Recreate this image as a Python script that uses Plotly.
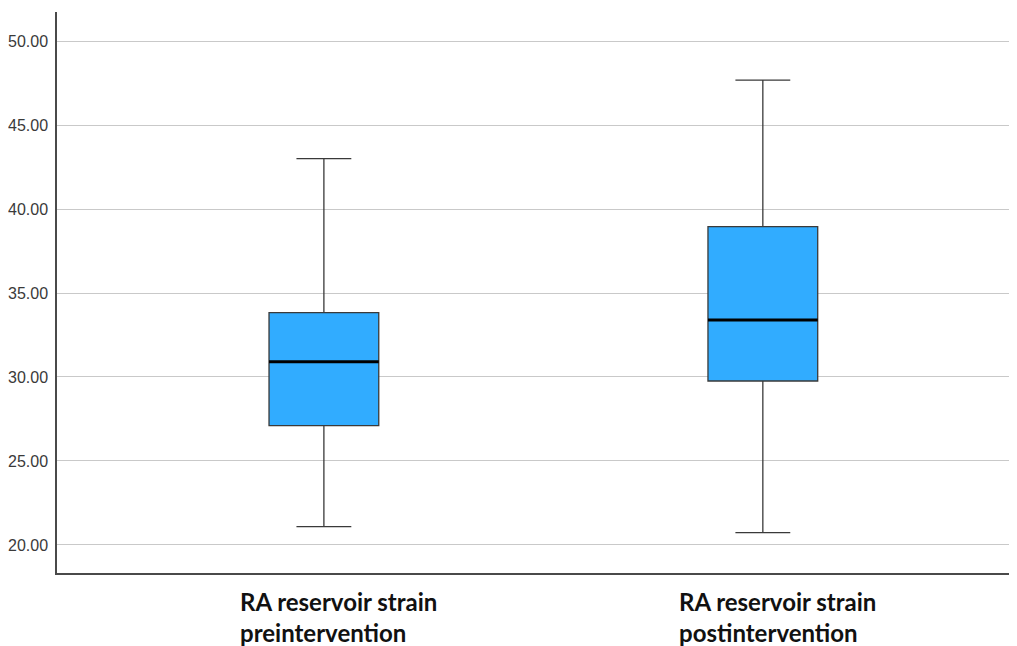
import plotly.graph_objects as go

categories = ["RA reservoir strain preintervention", "RA reservoir strain postintervention"]
label_lines = [["RA reservoir strain", "preintervention"], ["RA reservoir strain", "postintervention"]]
lower_whisker = [21.09, 20.73]
q1 = [27.11, 29.76]
median = [30.91, 33.40]
q3 = [33.83, 38.95]
upper_whisker = [43.00, 47.67]
y_ticks = [20, 25, 30, 35, 40, 45, 50]

xpos = [0, 1]
fig = go.Figure()
fig.add_trace(go.Box(
    x=xpos, q1=q1, median=median, q3=q3,
    lowerfence=lower_whisker, upperfence=upper_whisker,
    fillcolor="#31acff", line=dict(color="#3a3a3a", width=1.3),
    width=0.25, whiskerwidth=0.5, boxpoints=False, showlegend=False,
    hoverinfo="skip",
))
# thick median line overlay
fig.add_trace(go.Box(
    x=xpos, q1=median, median=median, q3=median,
    lowerfence=median, upperfence=median,
    fillcolor="rgba(0,0,0,0)", line=dict(color="#000000", width=3),
    width=0.25, whiskerwidth=0, boxpoints=False, showlegend=False,
    hoverinfo="skip",
))

for xi, lines in zip(xpos, label_lines):
    fig.add_annotation(
        x=xi, xref="x", y=0, yref="paper", yanchor="top", xanchor="left",
        xshift=-86, yshift=-12, align="left", showarrow=False,
        text="<br>".join(lines),
        font=dict(family="Lato, Carlito, Calibri, sans-serif", size=24, color="#111111", weight="bold"),
    )

fig.update_layout(
    width=1009, height=638,
    margin=dict(l=49, r=0, t=4, b=73),
    paper_bgcolor="white", plot_bgcolor="white",
    boxmode="overlay",
    xaxis=dict(
        range=[-0.608, 1.579], showticklabels=False, showgrid=False, zeroline=False,
        showline=True, linecolor="#4a4a4a", linewidth=1.5, ticks="", automargin=False,
    ),
    yaxis=dict(
        range=[18.33, 51.73], tickvals=y_ticks, tickformat=".2f",
        showgrid=True, gridcolor="#c9c9c9", gridwidth=1.2, zeroline=False,
        showline=True, linecolor="#4a4a4a", linewidth=1.5, ticks="",
        ticklabelstandoff=4, automargin=False,
        tickfont=dict(family="Liberation Sans, Arial, sans-serif", size=16, color="#3a3a3a"),
    ),
)

fig.write_html("out.html")
